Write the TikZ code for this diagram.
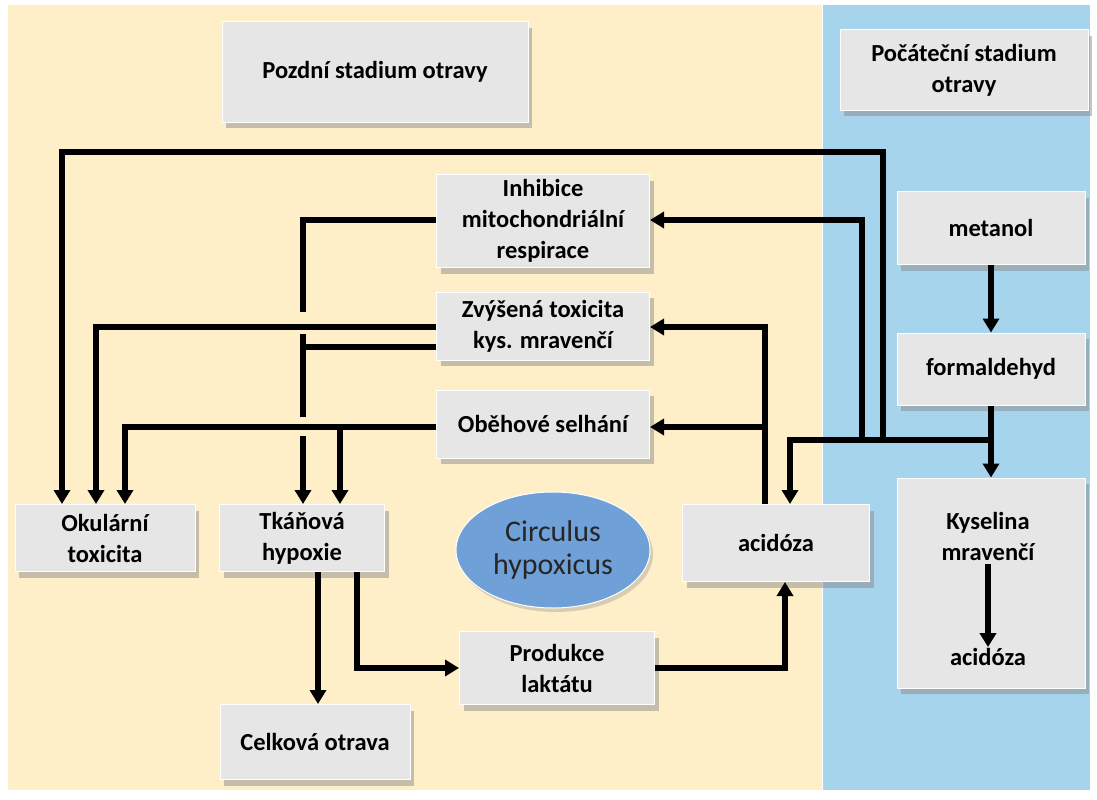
\documentclass[tikz,border=0pt]{standalone}
\usepackage{fontspec}
\setmainfont{Carlito}
\usetikzlibrary{arrows.meta,shapes.geometric,shadows}
\definecolor{beige}{HTML}{FEEFC8}
\definecolor{bluebg}{HTML}{A6D4EC}
\definecolor{boxg}{HTML}{E6E6E6}
\definecolor{ellb}{HTML}{6FA0D8}
\begin{document}
\begin{tikzpicture}[x=1pt,y=-1pt,
  box/.style={draw=white,line width=1pt,fill=boxg,align=center,font=\bfseries\fontsize{24.5}{31}\selectfont,
    drop shadow={shadow xshift=4pt,shadow yshift=-6pt,fill=black!45,opacity=.5},inner sep=2pt},
  ln/.style={line width=6pt},
  ar/.style={ln,-{Triangle[length=14pt,width=16pt]}}]
\useasboundingbox (0,0) rectangle (1097,800);
\fill[white] (0,0) rectangle (1097,800);
\fill[beige] (8,5) rectangle (822,790);
\fill[bluebg] (822,5) rectangle (1090,790);
\draw[white,line width=1pt] (822,5)--(822,790);
% boxes
\node[box,minimum width=306pt,minimum height=100pt] (late) at (375,72) {Pozdní stadium otravy};
\node[box,minimum width=248pt,minimum height=80pt] (early) at (964,70) {Počáteční stadium\\otravy};
\node[box,minimum width=213pt,minimum height=93pt] (inh) at (543,221) {Inhibice\\mitochondriální\\respirace};
\node[box,minimum width=213pt,minimum height=68pt] (zv) at (543,326) {Zvýšená toxicita\\kys. mravenčí};
\node[box,minimum width=213pt,minimum height=68pt] (ob) at (543,424) {Oběhové selhání};
\node[box,minimum width=188pt,minimum height=73pt] (met) at (991,228) {metanol};
\node[box,minimum width=188pt,minimum height=72pt] (form) at (991,369) {formaldehyd};
\node[box,minimum width=188pt,minimum height=210pt] (kys) at (991,583) {};
\node[font=\bfseries\fontsize{24.5}{31}\selectfont,align=center] (kyst) at (988,536) {Kyselina\\mravenčí};
\node[font=\bfseries\fontsize{24.5}{31}\selectfont,inner sep=1pt] (kysa) at (988,657) {acidóza};
\node[box,minimum width=180pt,minimum height=67pt] (ok) at (105,538) {Okulární\\toxicita};
\node[box,minimum width=165pt,minimum height=67pt] (tk) at (302,538) {Tkáňová\\hypoxie};
\node[ellipse,draw=white,line width=1pt,fill=ellb,minimum width=194pt,minimum height=116pt,align=center,
  font=\fontsize{30}{33}\selectfont\color{black!85},drop shadow={shadow xshift=3pt,shadow yshift=-4pt,opacity=.3}] (cir) at (553,550) {Circulus\\hypoxicus};
\node[box,minimum width=187pt,minimum height=77pt] (ac) at (776,543) {acidóza};
\node[box,minimum width=195pt,minimum height=73pt] (pr) at (557,668) {Produkce\\laktátu};
\node[box,minimum width=190pt,minimum height=75pt] (cel) at (315,742) {Celková otrava};
% right side chain
\draw[ar] (met.south) -- (form.north);
\draw[ar] (form.south) -- (kys.north);
\draw[ar] (kyst.south) -- (kysa.north);
\coordinate (j) at (988,440);
\draw[ar] (j) -- (790,440) -- (ac.north -| 790,0);
\draw[ar] (883,440) -- (883,152) -- (62,152) -- (ok.north -| 62,0);
\draw[ar] (862,440) -- (862,220) -- (inh.east |- 0,220);
% acidoza to Zv and Ob
\draw[ar] (ac.north -| 765,0) -- (765,327) -- (zv.east |- 0,327);
\draw[ar] (765,427) -- (ob.east |- 0,427);
% left side
\draw[ln] (inh.west |- 0,220) -- (303,220) -- (303,312);
\draw[ar] (zv.west |- 0,327) -- (96,327) -- (ok.north -| 96,0);
\draw[ln] (zv.west |- 0,347) -- (303,347);
\draw[ln] (303,334) -- (303,417);
\draw[ar] (ob.west |- 0,427) -- (125,427) -- (ok.north -| 125,0);
\draw[ar] (340,427) -- (tk.north -| 340,0);
\draw[ar] (303,436) -- (tk.north -| 303,0);
% bottom
\draw[ar] (tk.south -| 318,0) -- (cel.north -| 318,0);
\draw[ar] (tk.south -| 357,0) -- (357,668) -- (pr.west);
\draw[ar] (pr.east) -- (785,668) -- (ac.south -| 785,0);
\end{tikzpicture}
\end{document}
